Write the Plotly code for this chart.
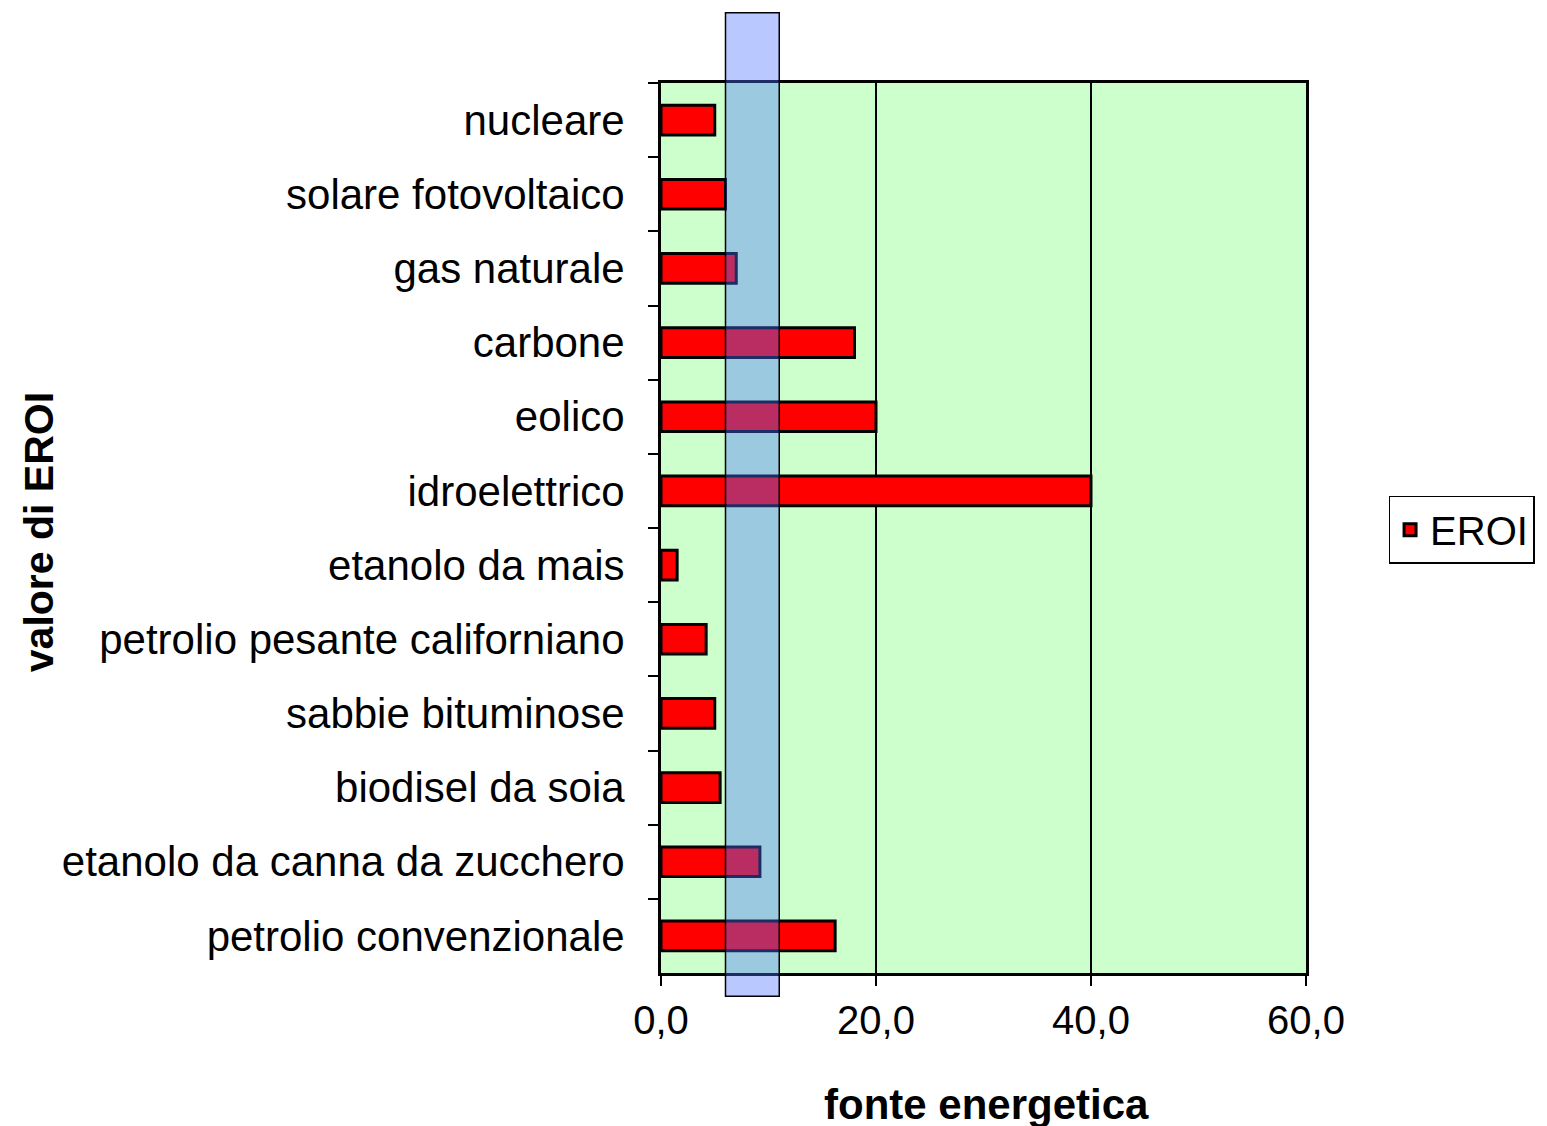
import plotly.graph_objects as go

categories = [
    "nucleare",
    "solare fotovoltaico",
    "gas naturale",
    "carbone",
    "eolico",
    "idroelettrico",
    "etanolo da mais",
    "petrolio pesante californiano",
    "sabbie bituminose",
    "biodisel da soia",
    "etanolo da canna da zucchero",
    "petrolio convenzionale",
]
eroi = [5, 6, 7, 18, 20, 40, 1.5, 4.2, 5, 5.5, 9.2, 16.2]

band_range = [6, 11]
x_ticks = [0, 20, 40, 60]
x_tick_labels = ["0,0", "20,0", "40,0", "60,0"]

FONT = "Liberation Sans, Arial, sans-serif"

fig = go.Figure()
fig.add_trace(go.Bar(
    y=categories,
    x=eroi,
    orientation="h",
    name="EROI",
    marker=dict(color="#FF0000", line=dict(color="black", width=3)),
))

fig.add_shape(
    type="rect", xref="x", yref="paper",
    x0=band_range[0], x1=band_range[1], y0=-0.026, y1=1.079,
    fillcolor="rgba(75,116,255,0.39)",
    line=dict(color="black", width=1.5),
    layer="above",
)

fig.update_layout(
    width=1547, height=1126,
    margin=dict(l=653, r=249, t=75, b=161),
    paper_bgcolor="white",
    plot_bgcolor="#CCFFCC",
    bargap=0.6,
    showlegend=True,
    legend=dict(
        x=1.128, y=0.498, xanchor="left", yanchor="middle",
        bordercolor="black", borderwidth=1.5, bgcolor="white",
        font=dict(family=FONT, size=40, color="black"),
    ),
    font=dict(family=FONT, size=40, color="black"),
)

fig.update_xaxes(
    range=[0, 60],
    tickvals=x_ticks, ticktext=x_tick_labels,
    ticks="outside", ticklen=10, tickwidth=2, tickcolor="black",
    showgrid=True, gridcolor="black", gridwidth=1.5,
    showline=True, linecolor="black", linewidth=3, mirror=True,
    zeroline=False,
    tickfont=dict(family=FONT, size=40, color="black"),
)
fig.update_yaxes(
    type="category",
    autorange="reversed",
    tickson="boundaries",
    ticks="outside", ticklen=10, tickwidth=2, tickcolor="black",
    showgrid=False,
    showline=True, linecolor="black", linewidth=3, mirror=True,
    tickfont=dict(family=FONT, size=42, color="black"),
    ticklabelstandoff=25,
)

fig.add_annotation(
    text="<b>valore di EROI</b>", textangle=-90,
    xref="paper", yref="paper", x=-0.964, y=0.4955,
    xanchor="center", yanchor="middle",
    showarrow=False, font=dict(family=FONT, size=41, color="black"),
)
fig.add_annotation(
    text="<b>fonte energetica</b>",
    xref="paper", yref="paper", x=0.504, y=-0.148,
    xanchor="center", yanchor="middle",
    showarrow=False, font=dict(family=FONT, size=42, color="black"),
)

fig.write_html("out.html")
